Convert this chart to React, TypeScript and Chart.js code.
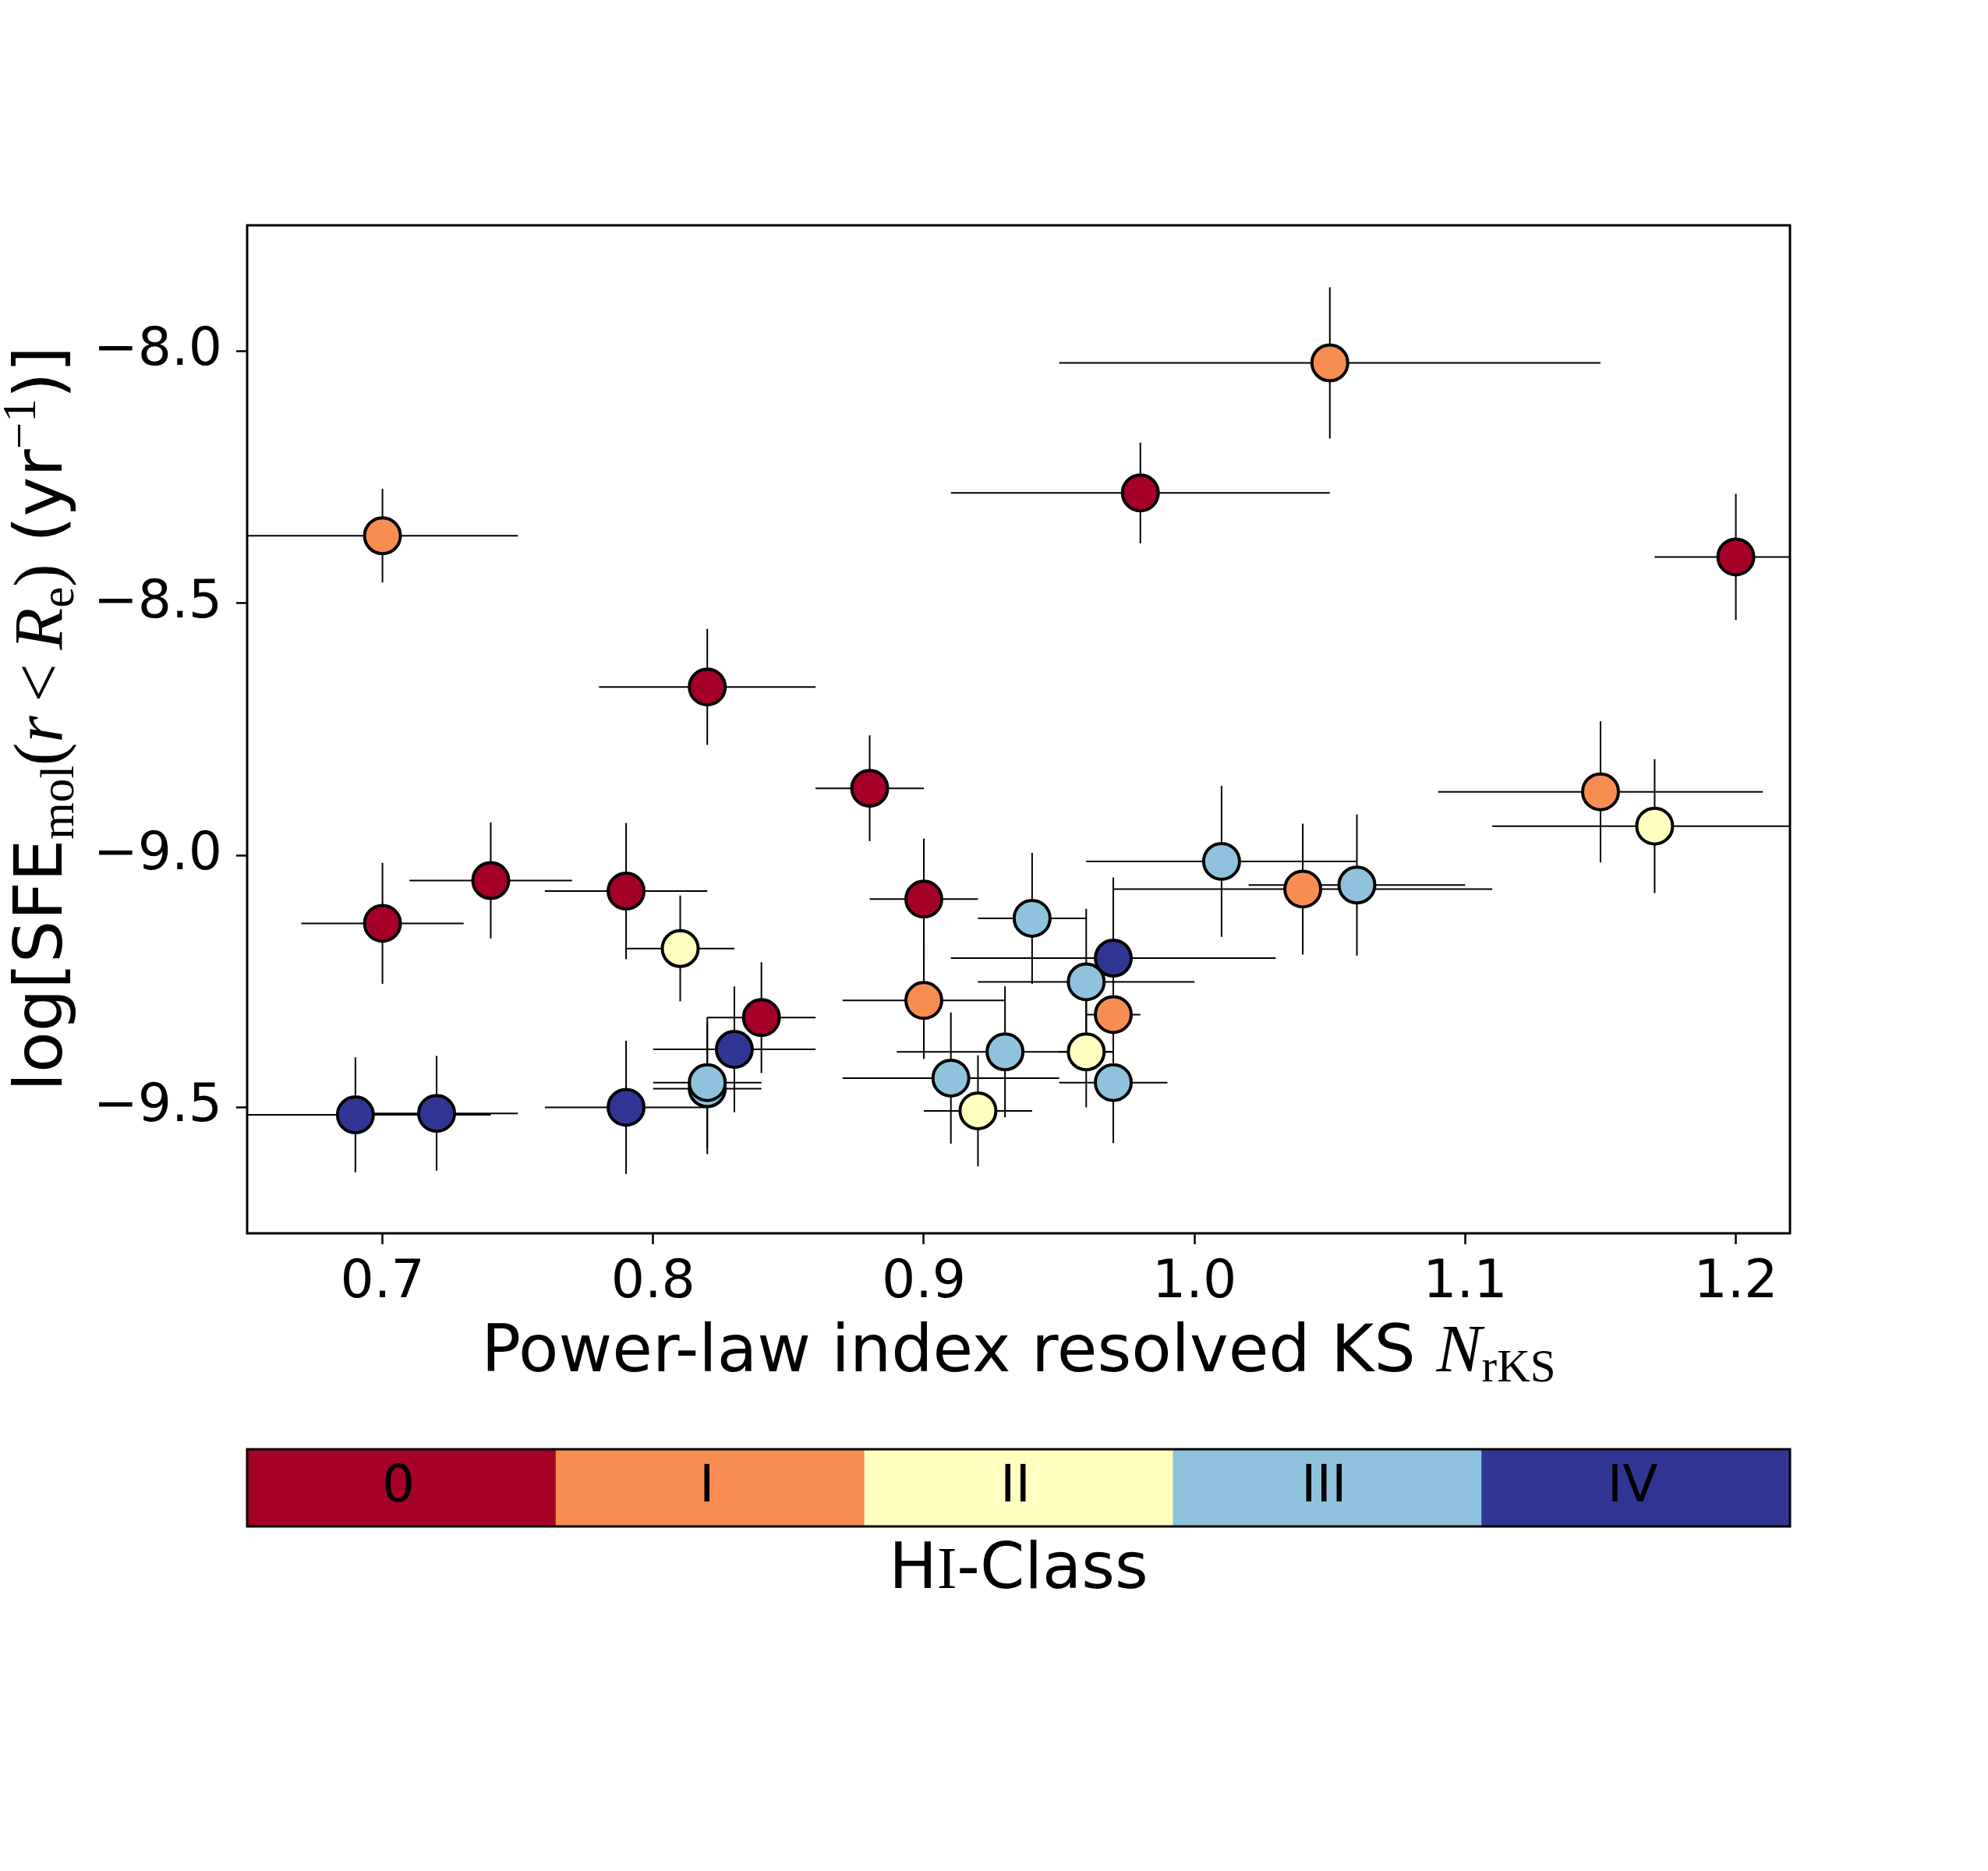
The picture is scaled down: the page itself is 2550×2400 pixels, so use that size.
import React, { useEffect, useRef } from 'react';
import { Chart, registerables } from 'chart.js';

Chart.register(...registerables);

const W = 2550;
const H = 2400;

// HI classes (colour bar)
const classLabels = ['0', 'I', 'II', 'III', 'IV'];
const classColors = ['#a50026', '#f88d52', '#ffffbf', '#8fc3dd', '#313695'];

// Galaxies: power-law index N_rKS, log SFE_mol, errors, HI class index
const pointX = [
  0.70, 0.74, 0.79, 0.82, 0.84, 0.88, 0.90, 0.98, 1.20,
  0.70, 0.90, 1.04, 1.05, 1.15,
  0.81, 0.92, 0.96, 1.17,
  0.82, 0.82, 0.91, 0.93, 0.94, 0.96, 0.97, 1.01, 1.06,
  0.69, 0.72, 0.79, 0.83, 0.97,
  0.97,
];
const pointY = [
  -9.135, -9.05, -9.071, -8.666, -9.322, -8.867, -9.087, -8.281, -8.408,
  -8.366, -9.288, -9.067, -8.023, -8.874,
  -9.185, -9.507, -9.39, -8.942,
  -9.463, -9.451, -9.442, -9.39, -9.125, -9.251, -9.451, -9.012, -9.059,
  -9.515, -9.512, -9.5, -9.385, -9.204,
  -9.316,
];
const errX = [
  0.03, 0.03, 0.03, 0.04, 0.02, 0.02, 0.02, 0.07, 0.03,
  0.05, 0.03, 0.07, 0.10, 0.06,
  0.02, 0.02, 0.01, 0.06,
  0.02, 0.02, 0.04, 0.04, 0.02, 0.04, 0.02, 0.05, 0.04,
  0.05, 0.03, 0.03, 0.03, 0.06,
  0.01,
];
const errY = [
  0.12, 0.115, 0.135, 0.115, 0.11, 0.105, 0.12, 0.10, 0.125,
  0.093, 0.116, 0.13, 0.15, 0.14,
  0.105, 0.11, 0.11, 0.133,
  0.13, 0.13, 0.13, 0.13, 0.13, 0.145, 0.12, 0.15, 0.14,
  0.114, 0.114, 0.132, 0.125, 0.16,
  0.07,
];
const pointClass = [
  0, 0, 0, 0, 0, 0, 0, 0, 0,
  1, 1, 1, 1, 1,
  2, 2, 2, 2,
  3, 3, 3, 3, 3, 3, 3, 3, 3,
  4, 4, 4, 4, 4,
  1,
];

const xTicks = [0.7, 0.8, 0.9, 1.0, 1.1, 1.2];
const yTicks = [-9.5, -9.0, -8.5, -8.0];
const xRange = [0.65, 1.22];
const yRange = [-9.75, -7.75];

const SANS = '"DejaVu Sans"';
const SERIF = '"Liberation Serif"';

type Seg = { t: string; f: string; dy?: number };

function drawSegs(ctx: CanvasRenderingContext2D, segs: Seg[], x: number, y: number, rotate = false) {
  ctx.save();
  ctx.translate(x, y);
  if (rotate) ctx.rotate(-Math.PI / 2);
  ctx.textAlign = 'left';
  ctx.textBaseline = 'alphabetic';
  ctx.fillStyle = '#000';
  const widths = segs.map((s) => {
    ctx.font = s.f;
    return ctx.measureText(s.t).width;
  });
  const total = widths.reduce((a, b) => a + b, 0);
  let cx = -total / 2;
  segs.forEach((s, i) => {
    ctx.font = s.f;
    ctx.fillText(s.t, cx, s.dy || 0);
    cx += widths[i];
  });
  ctx.restore();
}

const fmt = (v: number) => v.toFixed(1).replace('-', '\u2212');

const decorPlugin = {
  id: 'decor',
  beforeDatasetsDraw(chart: any) {
    const { ctx, chartArea } = chart;
    const xs = chart.scales.x;
    const ys = chart.scales.y;
    ctx.save();
    ctx.beginPath();
    ctx.rect(chartArea.left, chartArea.top, chartArea.right - chartArea.left, chartArea.bottom - chartArea.top);
    ctx.clip();
    ctx.strokeStyle = '#000';
    ctx.lineWidth = 2;
    for (let i = 0; i < pointX.length; i++) {
      const px = xs.getPixelForValue(pointX[i]);
      const py = ys.getPixelForValue(pointY[i]);
      const x0 = xs.getPixelForValue(pointX[i] - errX[i]);
      const x1 = xs.getPixelForValue(pointX[i] + errX[i]);
      const y0 = ys.getPixelForValue(pointY[i] - errY[i]);
      const y1 = ys.getPixelForValue(pointY[i] + errY[i]);
      ctx.beginPath();
      ctx.moveTo(x0, py);
      ctx.lineTo(x1, py);
      ctx.moveTo(px, y0);
      ctx.lineTo(px, y1);
      ctx.stroke();
    }
    ctx.restore();
  },
  afterDraw(chart: any) {
    const { ctx, chartArea } = chart;
    const { left, right, top, bottom } = chartArea;
    ctx.save();
    // frame
    ctx.strokeStyle = '#000';
    ctx.lineWidth = 3;
    ctx.strokeRect(left, top, right - left, bottom - top);

    const cx = (left + right) / 2;
    // x label
    drawSegs(ctx, [
      { t: 'Power-law index resolved KS ', f: `84px ${SANS}` },
      { t: 'N', f: `italic 87px ${SERIF}` },
      { t: 'rKS', f: `59px ${SERIF}`, dy: 13 },
    ], cx, 1759);

    // y label
    drawSegs(ctx, [
      { t: 'log[SFE', f: `86px ${SANS}` },
      { t: 'mol', f: `61px ${SERIF}`, dy: 15 },
      { t: '(', f: `88px ${SERIF}` },
      { t: 'r', f: `italic 88px ${SERIF}` },
      { t: '\u2009<\u2009', f: `88px ${SERIF}` },
      { t: 'R', f: `italic 88px ${SERIF}` },
      { t: 'e', f: `61px ${SERIF}`, dy: 15 },
      { t: ')', f: `88px ${SERIF}` },
      { t: ' (yr', f: `86px ${SANS}` },
      { t: '\u22121', f: `61px ${SERIF}`, dy: -34 },
      { t: ')]', f: `86px ${SANS}` },
    ], 79, 922, true);

    // colour bar
    const cbTop = 1859;
    const cbBottom = 1958;
    const n = classLabels.length;
    const segW = (right - left) / n;
    for (let i = 0; i < n; i++) {
      ctx.fillStyle = classColors[i];
      ctx.fillRect(left + i * segW, cbTop, segW + 0.5, cbBottom - cbTop);
    }
    ctx.strokeStyle = '#000';
    ctx.lineWidth = 3;
    ctx.strokeRect(left, cbTop, right - left, cbBottom - cbTop);
    ctx.fillStyle = '#000';
    ctx.font = `66px ${SANS}`;
    ctx.textAlign = 'center';
    ctx.textBaseline = 'alphabetic';
    for (let i = 0; i < n; i++) {
      ctx.fillText(classLabels[i], left + (i + 0.5) * segW - 4, 1926);
    }
    drawSegs(ctx, [
      { t: 'H', f: `82px ${SANS}` },
      { t: 'I', f: `76px ${SERIF}` },
      { t: '-Class', f: `82px ${SANS}` },
    ], cx, 2037);
    ctx.restore();
  },
};

export default function App() {
  const ref = useRef<HTMLCanvasElement | null>(null);

  useEffect(() => {
    document.body.style.margin = '0';
    const canvas = ref.current;
    if (!canvas) return;
    const data = pointX.map((x, i) => ({ x, y: pointY[i] }));
    const chart = new Chart(canvas, {
      type: 'scatter',
      data: {
        datasets: [
          {
            data,
            pointRadius: 23,
            pointHoverRadius: 23,
            pointBorderWidth: 4,
            pointBorderColor: '#000',
            pointBackgroundColor: pointClass.map((c) => classColors[c]),
            showLine: false,
          },
        ],
      },
      options: {
        responsive: false,
        animation: false,
        devicePixelRatio: 1,
        events: [],
        layout: { padding: { left: 0, top: 289, right: W - 2296, bottom: 0 } },
        plugins: { legend: { display: false }, tooltip: { enabled: false } },
        scales: {
          x: {
            type: 'linear',
            min: xRange[0],
            max: xRange[1],
            afterBuildTicks: (s: any) => {
              s.ticks = xTicks.map((v) => ({ value: v }));
            },
            afterFit: (s: any) => {
              s.height = H - 1582;
            },
            ticks: {
              font: { family: 'DejaVu Sans', size: 68 },
              color: '#000',
              padding: 10,
              maxRotation: 0,
              callback: (v: any) => fmt(Number(v)),
            },
            grid: { drawOnChartArea: false, drawTicks: true, tickLength: 14, tickWidth: 2.5, tickColor: '#000' },
            border: { display: false },
          },
          y: {
            type: 'linear',
            min: yRange[0],
            max: yRange[1],
            afterBuildTicks: (s: any) => {
              s.ticks = yTicks.map((v) => ({ value: v }));
            },
            afterFit: (s: any) => {
              s.width = 317;
            },
            ticks: {
              font: { family: 'DejaVu Sans', size: 68 },
              color: '#000',
              padding: 18,
              callback: (v: any) => fmt(Number(v)),
            },
            grid: { drawOnChartArea: false, drawTicks: true, tickLength: 14, tickWidth: 2.5, tickColor: '#000' },
            border: { display: false },
          },
        },
      },
      plugins: [decorPlugin],
    });
    return () => chart.destroy();
  }, []);

  return (
    <div style={{ width: W, height: H, background: '#fff' }}>
      <canvas ref={ref} width={W} height={H} style={{ display: 'block', width: W, height: H }} />
    </div>
  );
}
